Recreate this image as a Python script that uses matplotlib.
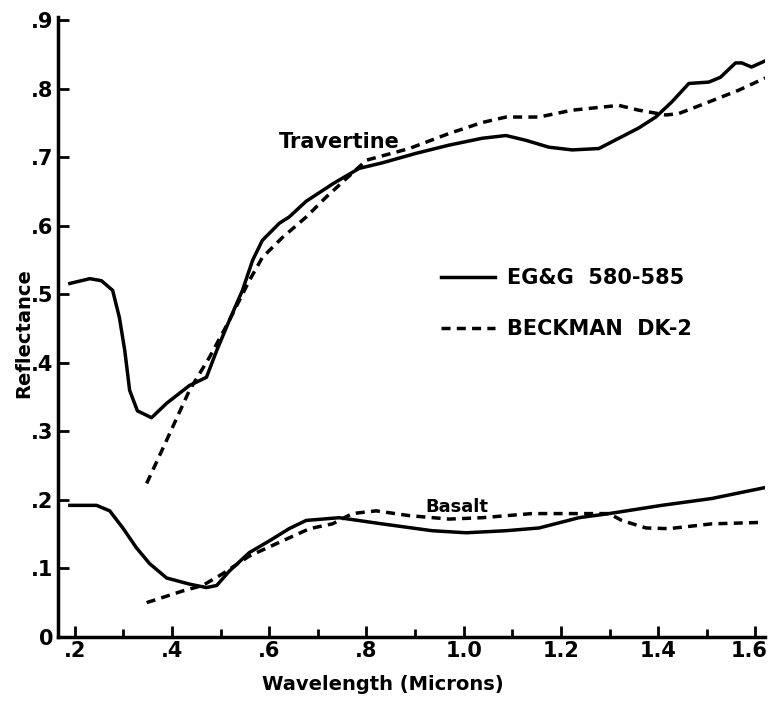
import matplotlib
matplotlib.use("Agg")
import matplotlib.pyplot as plt
import matplotlib.transforms as mtransforms
import numpy as np

# Travertine, EG&G 580-585 (solid)
trav_eg_x = [0.19, 0.231, 0.255, 0.278, 0.292, 0.303, 0.313, 0.329, 0.358, 0.389, 0.436, 0.471,
             0.492, 0.518, 0.545, 0.566, 0.586, 0.621, 0.641, 0.676, 0.732, 0.785, 0.832,
             0.902, 0.970, 1.038, 1.087, 1.128, 1.175, 1.223, 1.278, 1.319, 1.36, 1.395,
             1.428, 1.463, 1.504, 1.528, 1.559, 1.572, 1.592, 1.62]
trav_eg_y = [0.516, 0.523, 0.520, 0.506, 0.466, 0.418, 0.36, 0.330, 0.320, 0.341, 0.367, 0.379,
             0.418, 0.462, 0.506, 0.55, 0.579, 0.604, 0.613, 0.636, 0.662, 0.684, 0.692,
             0.706, 0.718, 0.728, 0.732, 0.725, 0.715, 0.711, 0.713, 0.728, 0.743, 0.759,
             0.781, 0.808, 0.810, 0.817, 0.838, 0.838, 0.832, 0.841]

# Travertine, Beckman DK-2 (dashed)
trav_bk_x = [0.348, 0.389, 0.436, 0.477, 0.518, 0.559, 0.586, 0.627, 0.676, 0.717, 0.80,
             0.888, 0.97, 1.038, 1.087, 1.155, 1.223, 1.319, 1.36, 1.416, 1.442, 1.497,
             1.565, 1.62]
trav_bk_y = [0.224, 0.287, 0.36, 0.408, 0.462, 0.52, 0.554, 0.583, 0.613, 0.642, 0.696,
             0.713, 0.735, 0.751, 0.759, 0.759, 0.769, 0.776, 0.769, 0.762, 0.764, 0.779,
             0.798, 0.816]

# Basalt, EG&G 580-585 (solid)
bas_eg_x = [0.19, 0.245, 0.272, 0.299, 0.327, 0.354, 0.389, 0.436, 0.471, 0.492, 0.518,
            0.559, 0.600, 0.641, 0.676, 0.744, 0.832, 0.935, 1.005, 1.087, 1.155, 1.237,
            1.299, 1.407, 1.51, 1.62]
bas_eg_y = [0.192, 0.192, 0.184, 0.159, 0.130, 0.107, 0.086, 0.077, 0.072, 0.075, 0.096,
            0.123, 0.140, 0.158, 0.170, 0.174, 0.165, 0.155, 0.152, 0.155, 0.159, 0.174,
            0.180, 0.192, 0.202, 0.218]

# Basalt, Beckman DK-2 (dashed)
bas_bk_x = [0.348, 0.422, 0.463, 0.504, 0.559, 0.627, 0.683, 0.730, 0.771, 0.82, 0.888,
            0.97, 1.038, 1.14, 1.216, 1.299, 1.325, 1.375, 1.422, 1.51, 1.606]
bas_bk_y = [0.050, 0.067, 0.075, 0.092, 0.118, 0.140, 0.158, 0.165, 0.180, 0.184, 0.177,
            0.172, 0.174, 0.180, 0.180, 0.180, 0.170, 0.159, 0.158, 0.165, 0.167]

x_ticks = [0.2, 0.4, 0.6, 0.8, 1.0, 1.2, 1.4, 1.6]
x_labels = ['.2', '.4', '.6', '.8', '1.0', '1.2', '1.4', '1.6']
y_ticks = [0, 0.1, 0.2, 0.3, 0.4, 0.5, 0.6, 0.7, 0.8, 0.9]
y_labels = ['0', '.1', '.2', '.3', '.4', '.5', '.6', '.7', '.8', '.9']

plt.rcParams['font.family'] = ['DejaVu Sans']
plt.rcParams['font.weight'] = 'bold'

fig = plt.figure(figsize=(7.69, 7.10), dpi=100)
ax = fig.add_axes([0.075, 0.103, 0.92, 0.873])

dash = (0, (2.6, 1.8))
ax.plot(trav_eg_x, trav_eg_y, color='black', lw=2.5, label='EG&G  580-585')
ax.plot(trav_bk_x, trav_bk_y, color='black', lw=2.5, linestyle=dash, label='BECKMAN  DK-2')
ax.plot(bas_eg_x, bas_eg_y, color='black', lw=2.5)
ax.plot(bas_bk_x, bas_bk_y, color='black', lw=2.5, linestyle=dash)

ax.text(0.744, 0.722, 'Travertine', fontsize=15, fontweight='bold', ha='center', va='center')
ax.text(0.985, 0.19, 'Basalt', fontsize=13, fontweight='bold', ha='center', va='center')

ax.set_xlim(0.165, 1.62)
ax.set_ylim(0, 0.905)
ax.set_xticks(x_ticks)
ax.set_xticklabels(x_labels)
ax.set_xticks(np.arange(0.3, 1.6, 0.2), minor=True)
ax.set_yticks(y_ticks)
ax.set_yticklabels(y_labels)
ax.tick_params(axis='both', which='major', direction='in', length=8, width=2,
               labelsize=15, pad=3)
ax.tick_params(axis='x', which='minor', direction='in', length=6, width=2)
for lab in ax.get_xticklabels() + ax.get_yticklabels():
    lab.set_fontweight('bold')

# last x label sits at the right edge, keep it inside the figure
last = ax.get_xticklabels()[-1]
last.set_horizontalalignment('right')
last.set_transform(last.get_transform() + mtransforms.ScaledTranslation(12 / 100, 0, fig.dpi_scale_trans))

for s in ['top', 'right']:
    ax.spines[s].set_visible(False)
for s in ['left', 'bottom']:
    ax.spines[s].set_linewidth(2.5)

ax.set_xlabel('Wavelength (Microns)', fontsize=14, fontweight='bold')
ax.xaxis.set_label_coords(0.46, -0.062)
ax.set_ylabel('Reflectance', fontsize=14, fontweight='bold')
ax.yaxis.set_label_coords(-0.035, 0.49)

ax.legend(loc='upper left', bbox_to_anchor=(0.515, 0.625), frameon=False,
          handlelength=2.6, handletextpad=0.6, labelspacing=1.5,
          prop={'size': 15, 'weight': 'bold'})

fig.savefig('out.png', dpi=100)
